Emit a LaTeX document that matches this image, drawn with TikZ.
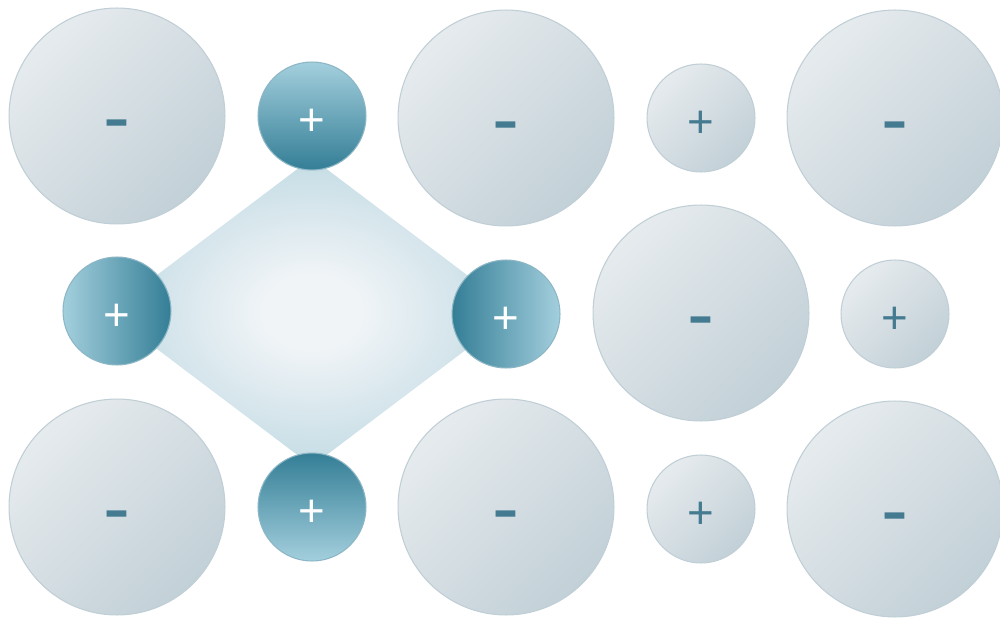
\documentclass[tikz,border=0pt]{standalone}
\usepackage{fontspec}
\setmainfont{Liberation Sans}
\usetikzlibrary{positioning}
\definecolor{ballhi}{HTML}{E6EBEE}
\definecolor{balllo}{HTML}{C2D0D7}
\definecolor{ballrim}{HTML}{C0CED6}
\definecolor{bluehi}{HTML}{A3CFDD}
\definecolor{bluelo}{HTML}{347E96}
\definecolor{bluerim}{HTML}{8CB6C5}
\definecolor{chargetxt}{HTML}{457B90}
\definecolor{glowin}{HTML}{F0F4F7}
\definecolor{glowout}{HTML}{C4DCE4}
\pgfdeclareradialshading{diamondglow}{\pgfpoint{0bp}{0bp}}{color(0bp)=(glowin); color(6bp)=(glowin); color(25bp)=(glowout); color(50bp)=(glowout)}

\begin{document}
\begin{tikzpicture}[x=0.02cm,y=-0.02cm,
  ball/.style={circle,inner sep=0pt,line width=.6pt},
  negball/.style={ball,minimum size=4.32cm,draw=ballrim,top color=ballhi,bottom color=balllo,shading angle=45,text=chargetxt,font=\fontsize{46}{46}\selectfont,text height=33pt,text depth=0pt},
  posball/.style={ball,minimum size=2.16cm,draw=ballrim,top color=ballhi,bottom color=balllo,shading angle=45,text=chargetxt,font=\fontsize{26}{26}\selectfont,text height=22pt,text depth=0pt},
  hotball/.style={posball,draw=bluerim,text=white}]
\useasboundingbox (0,0) rectangle (1000,618);
\coordinate (dtop) at (312,158);
\coordinate (dleft) at (108,312);
\coordinate (dbot) at (312,466);
\coordinate (dright) at (516,312);
\shade[shading=diamondglow] (dtop)--(dleft)--(dbot)--(dright)--cycle;
\node[negball] (neg1) at (117,116) {-};
\node[negball] (neg2) at (506,118) {-};
\node[negball] (neg3) at (895,118) {-};
\node[negball] (neg4) at (701,313) {-};
\node[negball] (neg5) at (117,507) {-};
\node[negball] (neg6) at (506,507) {-};
\node[negball] (neg7) at (895,509) {-};
\node[posball] (pos2) at (701,118) {+};
\node[posball] (pos5) at (895,314) {+};
\node[posball] (pos7) at (701,509) {+};
\node[hotball,top color=bluehi,bottom color=bluelo,shading angle=0] (pos1) at (312,116) {+};
\node[hotball,left color=bluehi,right color=bluelo] (pos3) at (117,311) {+};
\node[hotball,left color=bluelo,right color=bluehi] (pos4) at (506,314) {+};
\node[hotball,top color=bluelo,bottom color=bluehi,shading angle=0] (pos6) at (312,507) {+};
\end{tikzpicture}
\end{document}
